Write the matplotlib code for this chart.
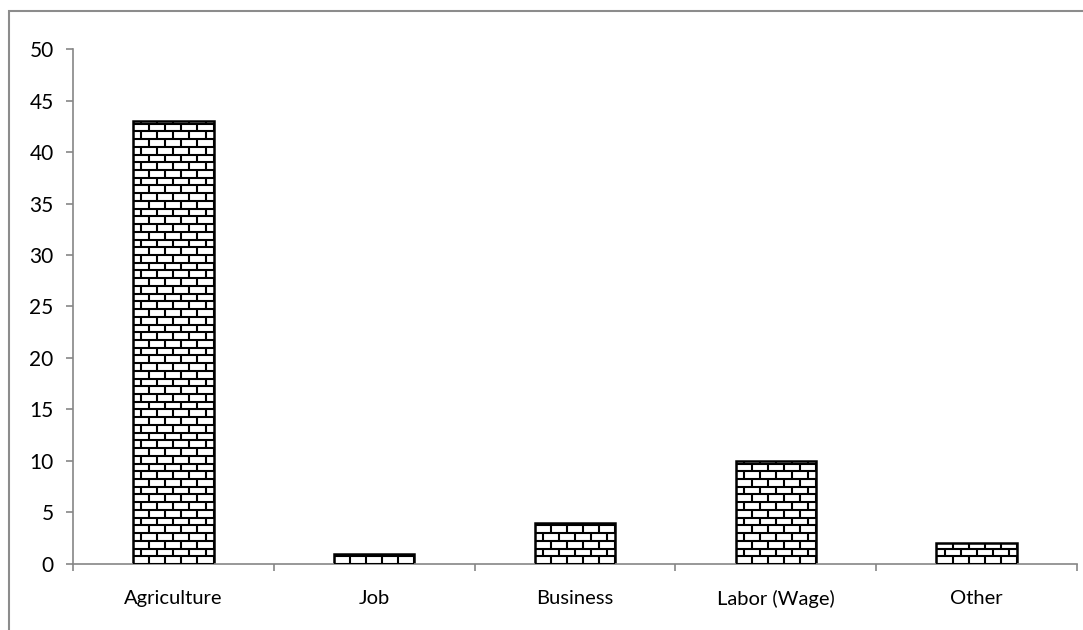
import matplotlib.pyplot as plt
from matplotlib.collections import LineCollection
from matplotlib.patches import Rectangle
import numpy as np

# Occupation categories and their shares.
categories = ["Agriculture", "Job", "Business", "Labor (Wage)", "Other"]
values = [43, 1, 4, 10, 2]
y_ticks = [0, 5, 10, 15, 20, 25, 30, 35, 40, 45, 50]

AXIS_GREY = "#868686"
BAR_WIDTH = 0.4
ROW_H = 0.75      # brick course height, data units
BRICK_W = 0.08    # brick length, category units


def brick_segments(x0, width, height):
    # Build the mortar lines for a brick pattern inside one bar.
    segs = []
    n_rows = int(np.ceil(height / ROW_H))
    for r in range(n_rows + 1):
        y = min(r * ROW_H, height)
        segs.append([(x0, y), (x0 + width, y)])
    for r in range(n_rows):
        y_lo = r * ROW_H
        y_hi = min((r + 1) * ROW_H, height)
        offset = 0 if r % 2 == 0 else BRICK_W / 2
        xs = np.arange(x0 + offset, x0 + width + 1e-9, BRICK_W)
        for x in xs:
            segs.append([(x, y_lo), (x, y_hi)])
    return segs


def script():
    plt.rcParams['font.family'] = ['Lato', 'DejaVu Sans']
    fig = plt.figure(figsize=(10.83, 6.3), dpi=100)

    # Grey frame around the whole chart area.
    fig.patches.append(Rectangle((9 / 1083, -0.1), 1.2, 1.1 - 11 / 630,
                                 transform=fig.transFigure, fill=False,
                                 edgecolor="#8c8c8c", linewidth=1.5))

    ax = fig.add_axes([0.0674, 0.1048, 0.9271, 0.8174])
    x = np.arange(len(categories))

    bars = ax.bar(x, values, width=BAR_WIDTH, color="white",
                  edgecolor="black", linewidth=1.8, zorder=2)

    # Overlay the brick pattern, clipped to each bar.
    for rect in bars:
        segs = brick_segments(rect.get_x(), rect.get_width(), rect.get_height())
        lc = LineCollection(segs, colors="black", linewidths=1.5, zorder=3)
        ax.add_collection(lc)
        lc.set_clip_path(rect)

    ax.set_xlim(-0.5, len(categories) - 0.5)
    ax.set_ylim(0, 50)
    ax.set_yticks(y_ticks)
    ax.set_yticklabels([str(t) for t in y_ticks], fontsize=15)

    # Category labels centred, tick marks on the category boundaries.
    ax.set_xticks(x)
    ax.set_xticklabels(categories, fontsize=14.5)
    ax.tick_params(axis="x", length=0, pad=19)
    ax.set_xticks(np.arange(len(categories) + 1) - 0.5, minor=True)
    ax.tick_params(axis="x", which="minor", length=5, color=AXIS_GREY, width=1.2)
    ax.tick_params(axis="y", length=5, color=AXIS_GREY, width=1.2, pad=9)

    for side in ["top", "right"]:
        ax.spines[side].set_visible(False)
    for side in ["left", "bottom"]:
        ax.spines[side].set_color(AXIS_GREY)
        ax.spines[side].set_linewidth(1.2)

    plt.savefig("out.png", dpi=100)


if __name__ == "__main__":
    script()
